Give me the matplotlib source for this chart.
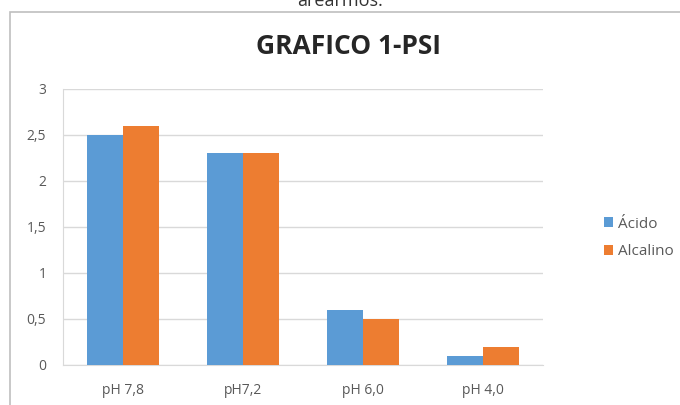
import numpy as np
import matplotlib
matplotlib.use("Agg")
import matplotlib.pyplot as plt
from matplotlib.patches import Rectangle
from matplotlib.ticker import FuncFormatter

# datos
categorias = ["pH 7,8", "pH7,2", "pH 6,0", "pH 4,0"]
acido = [2.5, 2.3, 0.6, 0.1]
alcalino = [2.6, 2.3, 0.5, 0.2]
ticks_y = [0, 0.5, 1, 1.5, 2, 2.5, 3]

plt.rcParams['font.family'] = ['Open Sans', 'DejaVu Sans']

fig = plt.figure(figsize=(6.8, 4.05), dpi=100)
W, H = 680, 405

# borde del área del gráfico
fig.patches.append(Rectangle((10 / W, -0.05), 1.0, 1 - 12 / H + 0.05,
                             transform=fig.transFigure, fill=False,
                             edgecolor="#BFBFBF", linewidth=1.2))
# texto cortado arriba (resto del documento)
fig.text(0.5, 1 - 1 / H, "arearmos.", ha="center", va="center",
         fontsize=13, color="#333333")

ax = fig.add_axes([63 / W, 1 - 365 / H, 480 / W, 276 / H])
x = np.arange(len(categorias))
w = 0.3
ax.bar(x - w / 2, acido, w, color="#5B9BD5", label="Ácido", zorder=3)
ax.bar(x + w / 2, alcalino, w, color="#ED7D31", label="Alcalino", zorder=3)

ax.set_xlim(-0.5, len(categorias) - 0.5)
ax.set_ylim(0, 3)
ax.set_yticks(ticks_y)
ax.yaxis.set_major_formatter(FuncFormatter(lambda v, p: f"{v:g}".replace(".", ",")))
ax.set_xticks(x)
ax.set_xticklabels(categorias)
ax.grid(axis="y", color="#D9D9D9", linewidth=1, zorder=0)
for s in ["top", "right"]:
    ax.spines[s].set_visible(False)
ax.spines["left"].set_color("#D9D9D9")
ax.spines["bottom"].set_color("#D9D9D9")
ax.tick_params(axis="both", length=0, labelsize=10, colors="#595959")
ax.tick_params(axis="y", pad=12)
ax.tick_params(axis="x", pad=13)

fig.text(348 / W, 1 - 46 / H, "GRAFICO 1-PSI", ha="center", va="center",
         fontsize=19, fontweight="bold", color="#262626")

fig.legend(loc="center left", bbox_to_anchor=(590 / W, 1 - 238 / H),
           frameon=False, fontsize=11, labelcolor="#595959",
           handlelength=0.6, handleheight=0.6, handletextpad=0.3,
           labelspacing=0.85)

fig.savefig("out.png", dpi=100)
